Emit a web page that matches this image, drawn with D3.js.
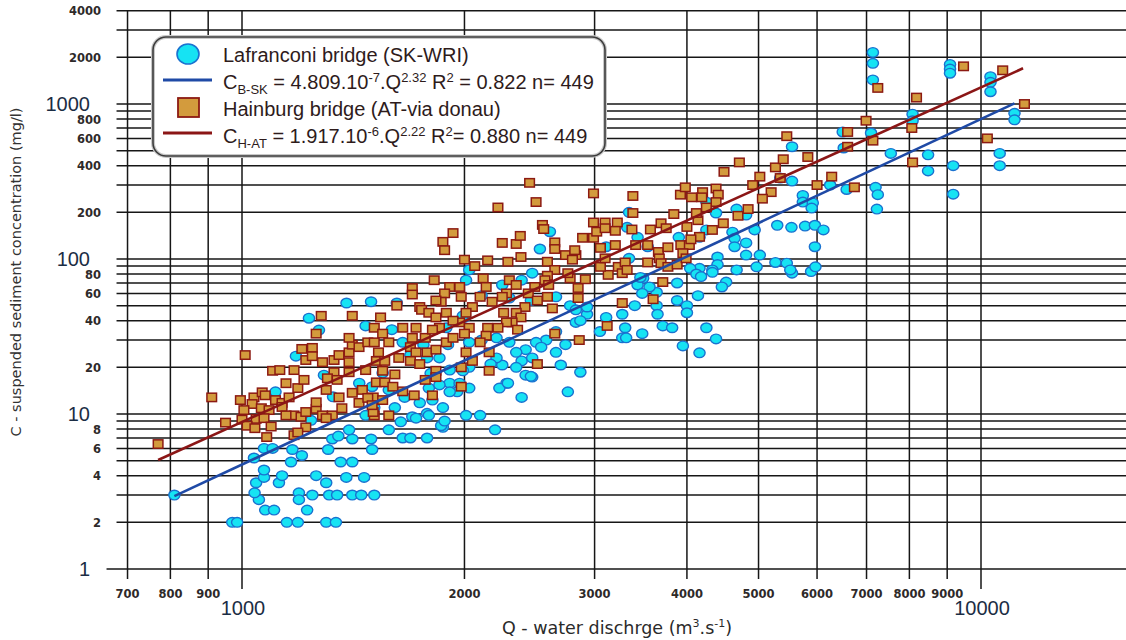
<!DOCTYPE html>
<html><head><meta charset="utf-8">
<script src="https://cdn.jsdelivr.net/npm/d3@7"></script>
<style>body{margin:0;background:#fff;}svg{display:block;}</style>
</head><body>
<svg id="chart" width="1126" height="640"></svg>
<script>
// ---------------- data ----------------
const xTicks = [700, 800, 900, 1000, 2000, 3000, 4000, 5000, 6000, 7000, 8000, 9000, 10000];
const xMajorLabels = [1000, 10000];
const yGrid = [1,2,3,4,5,6,7,8,9,10,20,30,40,50,60,70,80,90,100,200,300,400,500,600,700,800,900,1000,2000,3000,4000];
const yLabels = [1,2,4,6,8,10,20,40,60,80,100,200,400,600,800,1000,2000,4000];
const yMajorLabels = [1, 10, 100, 1000];

// Lafranconi bridge (SK-WRI) : [Q, C]
const lafranconi = [
[810,3.0],[970,2.0],[985,2.0],[1150,2.0],[1190,2.0],[1300,2.0],[1340,2.0],
[1075,2.4],[1105,2.4],[1054,2.8],[1040,3.1],[1045,3.6],[1071,3.9],[1071,4.35],
[1122,3.6],[1133,4.0],[1194,3.1],[1194,2.8],[1225,2.4],[1245,3.0],[1312,3.0],[1345,3.0],
[1260,4.0],[1300,3.6],[1384,3.9],[1463,3.9],[1410,3.0],[1450,3.0],[1510,3.0],
[1038,5.2],[1165,4.9],[1071,6.0],[1100,6.0],[1170,5.9],[1205,5.4],[1308,5.9],[1360,4.9],[1410,4.9],
[1325,6.9],[1410,6.9],[1495,6.9],[1500,5.9],
[1183,23.6],[1232,41.5],[1271,34.8],[1385,52],[1495,53],[1470,37],[1291,17.8],[1110,13.9],[1328,12.9],
[1441,15.8],[1396,7.9],[1350,7.2],[1240,9.1],[1470,9.8],
[2530,116],[2610,150],[1620,52],[1595,35],[1650,29],[2010,73],[2030,85],[2000,42],[2110,58],[2250,68],
[2300,56],[2390,73],[2470,81],[2460,54],[2660,57],[2780,50],[2930,44],[3110,42],[3270,44],[3270,31],
[3050,34],[2830,39],[2660,34],[2580,30],[2740,28],[2660,25],[2500,29],[2420,26],[2350,25],[2390,22],
[2350,20],[2420,17.8],[2470,17.3],[2250,20.7],[2280,15.8],[2230,14.7],[2390,12.8],[2700,20.7],[2870,18.6],
[2760,13.9],[2210,31],[2300,29],[2110,30],[2030,29],[2210,23],[2030,20],[1990,19],[1910,15.8],[2030,14.7],
[1955,13.9],[2010,9.8],[2100,9.8],[2200,7.9],[1870,11],[1780,10.1],[1700,9.6],[1640,8.9],[1720,9.4],
[1580,7.9],[1650,7.0],[1690,7.0],[1780,7.0],[1870,8.2],[1810,12.3],[1740,11.8],[1660,12.8],
[1580,14.3],[1790,14.7],[1910,19.2],[1850,23],[1760,28],[1690,24],[1550,18.4],[1500,15],[1510,11],
[2830,47],[2930,49],[1990,43],[1900,28],[1780,23],[2540,27],[2470,23],[2290,15.8],[2170,21],[2460,17.5],
[1860,8.4],[1880,9.0],[1790,9.8],[1610,11],[3300,36],[3310,31],[1890,36],[2870,40],
[1910,13.9],[1850,15.4],[1970,15.8],[1800,18.3],
[5550,530],[5550,318],[5350,333],[6250,300],[6580,281],[6500,660],[6520,520],[5740,257],[5740,233],
[5920,230],[5900,213],[4670,210],[4810,192],[5300,165],[5540,160],[5780,163],[5960,165],[6120,154],
[5960,120],[4940,154],[4610,149],[4640,136],[4640,120],[4810,127],[4810,106],[5020,106],[4970,89],
[5270,95],[5460,94],[5550,81],[5520,85],[5890,83],[5970,89],[4670,85],[4380,198],[4250,233],[3900,138],
[4160,138],[4250,154],[3340,200],[3320,160],[3430,138],[3540,120],[3340,101],[3110,120],[4400,103],
[4400,92],[4330,85],[4160,87],[4040,87],[4120,80],[4180,77],[4330,82],[4520,71],[4460,66],[3880,70],
[3640,61],[3490,75],[3430,68],[3560,66],[3480,60],[3460,76],[3880,54],[4000,50],[4000,45],[4140,58],
[3640,50],[3650,44],[3400,50],[3710,37],[3820,36],[3480,33],[4250,36],[4380,30.5],[3950,27.5],[4160,24.8],
[7140,2150],[7140,1830],[7140,1430],[9080,1800],[9080,1680],[9080,1580],[10300,1500],[10300,1380],
[10300,1200],[11100,870],[11100,790],[8080,860],[8080,780],[7100,650],[7550,480],[8480,470],[8480,370],
[9170,400],[10600,480],[10600,400],[7200,290],[7250,260],[7230,210],[9170,262]
];

// Hainburg bridge (AT-via donau) : [Q, C]
const hainburg = [
[770,6.4],[910,12.8],[950,8.8],[1010,24],[995,12.3],[1000,9.2],
[1280,43],[1410,43],[1260,33],[1100,19],[1125,19.2],[1176,19.2],[1205,26.3],[1245,26.7],[1220,22.3],
[1245,23.6],[1285,21.6],[1332,22.3],[1353,24],[1396,25],[1410,28],[1440,27],[1480,29],[1510,36],[1396,31],
[1396,21.6],[1396,18.6],[1332,18.6],[1305,17],[1345,16.6],[1147,15.8],[1190,14.7],[1213,16.6],[1038,12.8],
[1065,13.8],[1075,13.2],[1032,11.6],[1062,10.9],[1088,10.6],[1006,10.6],[1045,9.3],[1071,9.4],[1095,8.3],
[1080,7.1],[1016,8.4],[1041,8.1],[1110,12.3],[1133,11.8],[1158,12.8],[1133,11.1],[1176,9.8],[1202,9.6],
[1147,9.8],[1220,10.3],[1260,10.8],[1285,9.8],[1325,9.8],[1220,8.2],[1176,7.3],[1190,7.6],[1260,11.9],
[1300,14.3],[1353,12.8],[1410,13.7],[1455,14.3],[1505,12.8],[1365,10.9],[1440,11.8],[1480,12.7],[1510,9.8],
[1300,9.4],[1505,10.3],[1470,19.2],[1520,22],
[2450,310],[2990,265],[2220,215],[2500,233],[1930,147],[1870,129],[1880,114],[2000,99],[2065,90],[2150,98],
[2290,96],[2250,127],[2350,125],[2380,141],[2385,103],[2550,166],[2560,156],[2650,128],[2650,116],[2590,96],
[2740,106],[2830,106],[2800,99],[2820,114],[2890,137],[2990,137],[3020,150],[2990,172],[3100,172],[3220,172],
[3200,152],[3055,118],[3200,123],[3230,89],[3270,81],[3300,95],[3130,79],[3055,89],[2915,74],[2850,65],
[2850,56],[2780,75],[2760,81],[2650,85],[2590,78],[2570,73],[2590,57],[2630,48],[2600,68],[2650,33],
[2860,30],[2510,21],[3120,37],[3270,52],[2490,66],[2440,60],[2510,54],[2415,49],[2350,45],[2385,42],
[2320,39],[2360,35],[2260,45],[2280,39],[2220,36],[2150,36],[2140,32],[2300,73],[2350,68],[2280,60],
[2250,57],[2120,75],[2140,66],[2100,57],[2180,53],[2050,49],[2010,45],[1970,39],[2030,36],[2000,33],
[2100,29],[2010,25],[2050,22],[1980,20],[1980,15],[2160,25],[2160,19],[1970,66],[1980,57],[1910,66],
[1880,60],[1860,53],[1830,54],[1820,73],[1700,65],[1700,59],[1620,50],[1740,49],[1750,47],[1790,45],
[1830,42],[1890,45],[1930,40],[1540,42],[1550,33],[1580,29],[1510,29],[1650,36],[1720,36],
[1700,31],[1770,31],[1850,36],[1810,35],[1690,27],[1720,25],[1780,25],[1830,26],[1890,29],[1930,31],
[1530,25],[1560,22],[1630,23],[1690,22],[1740,21],[1830,19],[1550,19],[1610,18],[1520,16],[1560,16],
[1600,15],[1650,14],[1710,13.2],[1810,13.2],[1550,12.3],[1500,11.4],[1580,9.8],[1830,17.3],
[1770,16.6],
[5460,620],[6600,660],[6600,530],[4710,420],[4490,365],[5270,390],[5400,440],[5830,455],[5020,340],
[5350,333],[4910,300],[5200,270],[5060,245],[6000,300],[6280,340],[6740,290],[4690,190],[4840,210],
[4380,285],[4410,260],[4380,233],[4200,270],[4190,250],[4060,250],[3920,260],[3980,290],[4250,215],
[4140,178],[4120,198],[3840,195],[4000,161],[4480,170],[4330,154],[4160,139],[3380,255],[3380,198],
[3100,158],[3370,155],[3570,155],[3690,170],[3750,158],[3660,111],[3770,119],[3925,123],[4030,123],
[4050,134],[3950,109],[3670,101],[3690,94],[3540,95],[3100,101],[3320,85],[3770,89],[3880,92],[3990,101],
[3410,123],[3540,123],[3710,71],[3600,55],
[7250,1270],[8180,1100],[9470,1750],[10700,1650],[11450,1000],[6990,780],[7140,580],[8060,700],
[10200,600],[8080,420]
];

const fitBSK = [[810, 2.95], [11100, 1010]];
const fitHAT = [[770, 5.05], [11400, 1700]];

const legendNames = ["Lafranconi bridge (SK-WRI)", "Hainburg bridge (AT-via donau)"];
const legendFits = [
  {sub: "B-SK", coef: "4.809.10", exp: "-7", pow: "2.32", r2: " = 0.822 n= 449"},
  {sub: "H-AT", coef: "1.917.10", exp: "-6", pow: "2.22", r2: "= 0.880 n= 449"}
];

// ---------------- drawing ----------------
const W = 1126, H = 640;
const svg = d3.select("#chart");
const x = d3.scaleLog().domain([1000, 10000]).range([242, 981]);
const y = d3.scaleLog().domain([1, 1000]).range([569, 104]);
const x0 = x(700), yTop = y(4000), yBot = y(1);
const gridCol = "#161616";
const cyanFill = "#16e3f3", cyanStroke = "#1a72d0";
const orFill = "#d39b3d", orStroke = "#8c1a12";
const blueLine = "#1f4aa6", redLine = "#8b1616";

// horizontal grid + left ticks
svg.append("g").selectAll("line").data(yGrid).join("line")
  .attr("x1", d => d === 1 ? x0 - 21 : x0 - 11).attr("x2", W)
  .attr("y1", d => y(d)).attr("y2", d => y(d))
  .attr("stroke", gridCol).attr("stroke-width", 1.5);

// vertical grid + bottom ticks
svg.append("g").selectAll("line").data(xTicks).join("line")
  .attr("x1", d => x(d)).attr("x2", d => x(d))
  .attr("y1", yTop).attr("y2", d => xMajorLabels.includes(d) ? yBot + 20 : yBot + 10)
  .attr("stroke", gridCol).attr("stroke-width", 1.5);

// y tick labels
svg.append("g").selectAll("text").data(yLabels).join("text")
  .attr("x", d => yMajorLabels.includes(d) ? 90 : 101)
  .attr("y", d => y(d) + (yMajorLabels.includes(d) ? 7 : 4.5))
  .attr("text-anchor", "end")
  .attr("font-family", d => yMajorLabels.includes(d) ? "Liberation Sans, Arial, sans-serif" : "DejaVu Sans, sans-serif")
  .attr("font-weight", d => yMajorLabels.includes(d) ? "normal" : "bold")
  .attr("font-size", d => yMajorLabels.includes(d) ? 20 : 11.5)
  .attr("fill", d => yMajorLabels.includes(d) ? "#1b2d44" : "#2e2a2a")
  .text(d => d);

// x tick labels
svg.append("g").selectAll("text").data(xTicks).join("text")
  .attr("x", d => x(d) + (xMajorLabels.includes(d) ? 1 : 0))
  .attr("y", d => xMajorLabels.includes(d) ? 615 : 598)
  .attr("text-anchor", "middle")
  .attr("font-family", d => xMajorLabels.includes(d) ? "Liberation Sans, Arial, sans-serif" : "DejaVu Sans, sans-serif")
  .attr("font-weight", d => xMajorLabels.includes(d) ? "normal" : "bold")
  .attr("font-size", d => xMajorLabels.includes(d) ? 20 : 11.5)
  .attr("fill", d => xMajorLabels.includes(d) ? "#1b2d44" : "#2e2a2a")
  .text(d => d);

// axis titles
const xt = svg.append("text").attr("x", 617).attr("y", 634).attr("text-anchor", "middle")
  .attr("font-family", "DejaVu Sans, sans-serif").attr("font-size", 17.5).attr("fill", "#2a2a2a");
xt.append("tspan").text("Q - water dischrge (m");
xt.append("tspan").attr("dy", -7).attr("font-size", 11).text("3");
xt.append("tspan").attr("dy", 7).text(".s");
xt.append("tspan").attr("dy", -7).attr("font-size", 11).text("-1");
xt.append("tspan").attr("dy", 7).text(")");

svg.append("text").attr("transform", "translate(21,272) rotate(-90)").attr("text-anchor", "middle")
  .attr("font-family", "DejaVu Sans, sans-serif").attr("font-size", 14.5).attr("fill", "#333")
  .text("C - suspended sediment concentration (mg/l)");

// points
svg.append("g").selectAll("ellipse").data(lafranconi).join("ellipse")
  .attr("cx", d => x(d[0])).attr("cy", d => y(d[1]))
  .attr("rx", 5.6).attr("ry", 4.8)
  .attr("fill", cyanFill).attr("stroke", cyanStroke).attr("stroke-width", 1.4);

svg.append("g").selectAll("rect").data(hainburg).join("rect")
  .attr("x", d => x(d[0]) - 4.8).attr("y", d => y(d[1]) - 4.2)
  .attr("width", 9.6).attr("height", 8.4)
  .attr("fill", orFill).attr("stroke", orStroke).attr("stroke-width", 1.5);

// regression lines
const lineGen = d3.line().x(d => x(d[0])).y(d => y(d[1]));
svg.append("path").datum(fitBSK).attr("d", lineGen).attr("stroke", blueLine).attr("stroke-width", 2.6).attr("fill", "none");
svg.append("path").datum(fitHAT).attr("d", lineGen).attr("stroke", redLine).attr("stroke-width", 2.6).attr("fill", "none");

// legend
const lg = svg.append("g");
lg.append("rect").attr("x", 153).attr("y", 37).attr("width", 452).attr("height", 119).attr("rx", 13)
  .attr("fill", "#fff").attr("stroke", "#c8c8c8").attr("stroke-width", 4);
lg.append("rect").attr("x", 153).attr("y", 37).attr("width", 452).attr("height", 119).attr("rx", 13)
  .attr("fill", "none").attr("stroke", "#3c3c3c").attr("stroke-width", 1.6);
lg.append("ellipse").attr("cx", 188).attr("cy", 54).attr("rx", 11).attr("ry", 10)
  .attr("fill", cyanFill).attr("stroke", cyanStroke).attr("stroke-width", 1.6);
lg.append("line").attr("x1", 163).attr("x2", 212).attr("y1", 80).attr("y2", 80).attr("stroke", blueLine).attr("stroke-width", 3);
lg.append("rect").attr("x", 178).attr("y", 98).attr("width", 21).attr("height", 19)
  .attr("fill", orFill).attr("stroke", orStroke).attr("stroke-width", 1.8);
lg.append("line").attr("x1", 163).attr("x2", 212).attr("y1", 133).attr("y2", 133).attr("stroke", redLine).attr("stroke-width", 3);

const lgFont = "Liberation Sans, Arial, sans-serif";
[62, 116].forEach((yy, i) => {
  lg.append("text").attr("x", 223).attr("y", yy).attr("font-family", lgFont).attr("font-size", 20)
    .attr("fill", "#2e1b1b").text(legendNames[i]);
});
[89, 143].forEach((yy, i) => {
  const f = legendFits[i];
  const t = lg.append("text").attr("x", 223).attr("y", yy).attr("font-family", lgFont).attr("font-size", 20).attr("fill", "#2e1b1b");
  t.append("tspan").text("C");
  t.append("tspan").attr("dy", 5).attr("font-size", 13).text(f.sub);
  t.append("tspan").attr("dy", -5).text(" = " + f.coef);
  t.append("tspan").attr("dy", -7).attr("font-size", 13).text(f.exp);
  t.append("tspan").attr("dy", 7).text(".Q");
  t.append("tspan").attr("dy", -7).attr("font-size", 13).text(f.pow);
  t.append("tspan").attr("dy", 7).text(" R");
  t.append("tspan").attr("dy", -7).attr("font-size", 13).text("2");
  t.append("tspan").attr("dy", 7).text(f.r2);
});
</script>
</body></html>
